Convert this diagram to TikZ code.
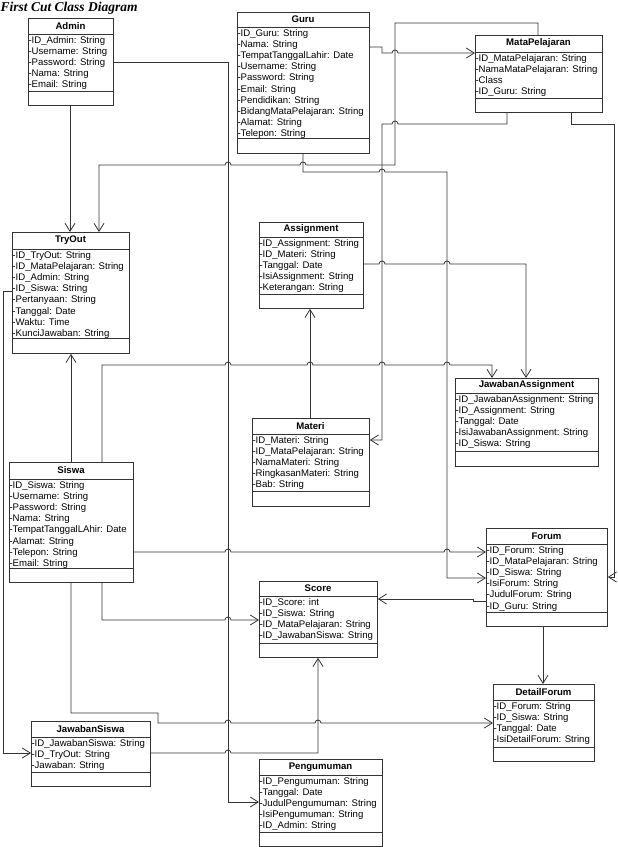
\documentclass[tikz,border=0pt]{standalone}
\usepackage{fontspec}
\setmainfont{Liberation Sans}
\newfontfamily\titlefont{Liberation Serif}
\usetikzlibrary{arrows.meta}
\tikzset{
  conn/.style={line width=0.8pt, draw=black!80},
  arr/.style={conn, -{Straight Barb[length=8pt,width=10pt,line width=0.8pt]}},
  boxline/.style={line width=0.8pt, draw=black!80},
  ctitle/.style={font=\fontsize{9.6}{11}\selectfont\bfseries, inner sep=0pt},
  cattr/.style={font=\fontsize{9.6}{11.1}\selectfont, inner sep=0pt, align=left, anchor=north west},
}
% #1 name, #2 x1, #3 y1, #4 x2, #5 y2, #6 title sep, #7 attr sep, #8 title, #9 attrs
\newcommand\umlclass[9]{%
  \node[boxline, draw, anchor=north west, minimum width=#4-#2, minimum height=#5-#3, inner sep=0pt] (#1) at (#2,#3) {};
  \draw[boxline] (#2,#6) -- (#4,#6);
  \draw[boxline] (#2,#7) -- (#4,#7);
  \node[ctitle] (#1-t) at ({(#2+#4)/2},{(#3+#6)/2}) {#8};
  \node[cattr] (#1-a) at (#2+0.3,#6+1.6) {#9};
}
\newcommand\hopR[2]{-- (#1-3,#2) arc[start angle=180,end angle=360,radius=3]}
\newcommand\hopL[2]{-- (#1+3,#2) arc[start angle=0,end angle=-180,radius=3]}
\begin{document}
\begin{tikzpicture}[x=1pt,y=-1pt]
\useasboundingbox[fill=white] (0,0) rectangle (618,847);
\node[font=\titlefont\fontsize{13.5}{16}\selectfont\bfseries\itshape, anchor=base west, inner sep=0pt] (title) at (0.5,11) {First Cut Class Diagram};

\umlclass{admin}{28}{18}{113}{105}{34}{91}{Admin}{\strut-ID\_Admin: String\\\strut-Username: String\\\strut-Password: String\\\strut-Nama: String\\\strut-Email: String}
\umlclass{guru}{237}{12}{369}{153}{27}{138}{Guru}{\strut-ID\_Guru: String\\\strut-Nama: String\\\strut-TempatTanggalLahir: Date\\\strut-Username: String\\\strut-Password: String\\\strut-Email: String\\\strut-Pendidikan: String\\\strut-BidangMataPelajaran: String\\\strut-Alamat: String\\\strut-Telepon: String}
\umlclass{mp}{475}{35}{602}{112}{52}{98}{MataPelajaran}{\strut-ID\_MataPelajaran: String\\\strut-NamaMataPelajaran: String\\\strut-Class\\\strut-ID\_Guru: String}
\umlclass{tryout}{12}{232}{129}{353}{249}{338}{TryOut}{\strut-ID\_TryOut: String\\\strut-ID\_MataPelajaran: String\\\strut-ID\_Admin: String\\\strut-ID\_Siswa: String\\\strut-Pertanyaan: String\\\strut-Tanggal: Date\\\strut-Waktu: Time\\\strut-KunciJawaban: String}
\umlclass{assign}{259}{222}{363}{308}{237}{294}{Assignment}{\strut-ID\_Assignment: String\\\strut-ID\_Materi: String\\\strut-Tanggal: Date\\\strut-IsiAssignment: String\\\strut-Keterangan: String}
\umlclass{ja}{455}{378}{598}{466}{393}{451}{JawabanAssignment}{\strut-ID\_JawabanAssignment: String\\\strut-ID\_Assignment: String\\\strut-Tanggal: Date\\\strut-IsiJawabanAssignment: String\\\strut-ID\_Siswa: String}
\umlclass{materi}{252}{418}{369}{506}{434}{491}{Materi}{\strut-ID\_Materi: String\\\strut-ID\_MataPelajaran: String\\\strut-NamaMateri: String\\\strut-RingkasanMateri: String\\\strut-Bab: String}
\umlclass{siswa}{9}{462}{133}{582}{479}{568}{Siswa}{\strut-ID\_Siswa: String\\\strut-Username: String\\\strut-Password: String\\\strut-Nama: String\\\strut-TempatTanggalLAhir: Date\\\strut-Alamat: String\\\strut-Telepon: String\\\strut-Email: String}
\umlclass{forum}{486}{528}{607}{626}{544}{612}{Forum}{\strut-ID\_Forum: String\\\strut-ID\_MataPelajaran: String\\\strut-ID\_Siswa: String\\\strut-IsiForum: String\\\strut-JudulForum: String\\\strut-ID\_Guru: String}
\umlclass{score}{259}{581}{377}{657}{596}{643}{Score}{\strut-ID\_Score: int\\\strut-ID\_Siswa: String\\\strut-ID\_MataPelajaran: String\\\strut-ID\_JawabanSiswa: String}
\umlclass{df}{493}{684}{594}{761}{700}{747}{DetailForum}{\strut-ID\_Forum: String\\\strut-ID\_Siswa: String\\\strut-Tanggal: Date\\\strut-IsiDetailForum: String}
\umlclass{js}{31}{721}{150}{786}{737}{772}{JawabanSiswa}{\strut-ID\_JawabanSiswa: String\\\strut-ID\_TryOut: String\\\strut-Jawaban: String}
\umlclass{peng}{259}{759}{382}{846}{775}{832}{Pengumuman}{\strut-ID\_Pengumuman: String\\\strut-Tanggal: Date\\\strut-JudulPengumuman: String\\\strut-IsiPengumuman: String\\\strut-ID\_Admin: String}

% Admin -> TryOut
\draw[arr] (admin.south -| 70,0) -- (tryout.north -| 70,0);
% Admin -> Pengumuman
\draw[arr] (admin.east |- 0,62) -- (228,62) -- (228,802) -- (peng.west |- 0,802);
% MataPelajaran -> TryOut
\draw[arr] (mp.north -| 538,0) -- (538,23) -- (395,23) -- (395,165) \hopL{303}{165} \hopL{228}{165} -- (99,165) -- (tryout.north -| 99,0);
% Guru -> MataPelajaran
\draw[arr] (guru.east |- 0,47) -- (382,47) -- (382,53) \hopR{395}{53} -- (mp.west |- 0,53);
% Guru -> Forum
\draw[arr] (guru.south -| 303,0) -- (303,172) \hopR{382}{172} -- (447,172) -- (447,578) -- (forum.west |- 0,578);
% MataPelajaran -> Materi
\draw[arr] (mp.south -| 507,0) -- (507,124) \hopL{395}{124} -- (382,124) -- (382,440) -- (materi.east |- 0,440);
% MataPelajaran -> Forum
\draw[arr] (mp.south -| 571,0) -- (571,124) -- (614,124) -- (614,577) -- (forum.east |- 0,577);
% Materi -> Assignment
\draw[arr] (materi.north -| 310,0) -- (assign.south -| 310,0);
% Assignment -> JawabanAssignment
\draw[arr] (assign.east |- 0,264) \hopR{382}{264} \hopR{447}{264} -- (526,264) -- (ja.north -| 526,0);
% Siswa -> TryOut
\draw[arr] (siswa.north -| 71,0) -- (tryout.south -| 71,0);
% Siswa -> JawabanAssignment
\draw[arr] (siswa.north -| 102,0) -- (102,365) \hopR{228}{365} \hopR{310}{365} \hopR{382}{365} \hopR{447}{365} -- (492,365) -- (ja.north -| 492,0);
% Siswa -> Forum
\draw[arr] (siswa.east |- 0,552) \hopR{228}{552} \hopR{447}{552} -- (forum.west |- 0,552);
% Siswa -> Score
\draw[arr] (siswa.south -| 102,0) -- (102,620) \hopR{228}{620} -- (score.west |- 0,620);
% Forum -> Score
\draw[arr] (forum.west |- 0,601) -- (473,601) -- (473,599) -- (score.east |- 0,599);
% Forum -> DetailForum
\draw[arr] (forum.south -| 543,0) -- (df.north -| 543,0);
% Siswa -> DetailForum
\draw[arr] (siswa.south -| 71,0) -- (71,713) -- (158,713) -- (158,723) \hopR{228}{723} \hopR{318}{723} -- (df.west |- 0,723);
% TryOut -> JawabanSiswa
\draw[arr] (tryout.west |- 0,291) -- (3,291) -- (3,753) -- (js.west |- 0,753);
% JawabanSiswa -> Score
\draw[arr] (js.east |- 0,753) \hopR{228}{753} -- (318,753) -- (score.south -| 318,0);
\end{tikzpicture}
\end{document}
